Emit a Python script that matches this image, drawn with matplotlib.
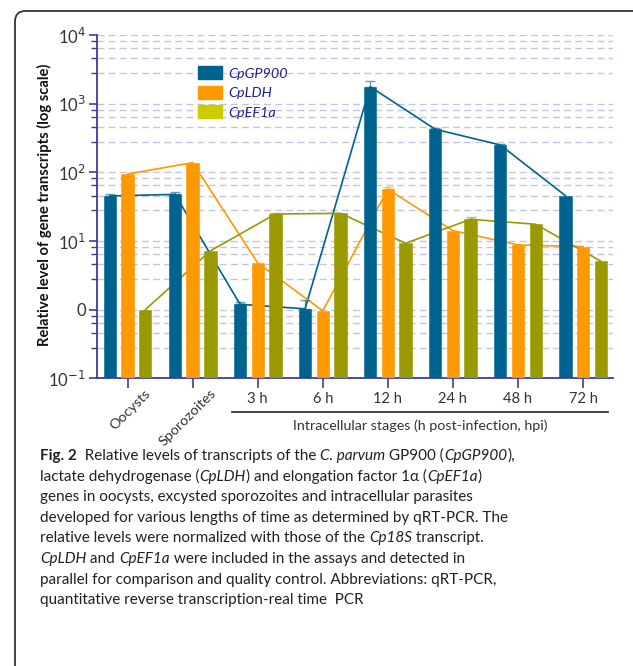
import numpy as np
import matplotlib.pyplot as plt
from matplotlib.patches import FancyBboxPatch, Patch
from matplotlib.ticker import FixedLocator, NullFormatter

# data
stages = ["Oocysts", "Sporozoites", "3 h", "6 h", "12 h", "24 h", "48 h", "72 h"]
gp900 = [45.5, 48, 1.2, 1.03, 1780, 427, 252, 46]
ldh = [95, 139, 4.8, 0.96, 57, 14.2, 8.8, 8.3]
ef1a = [1.0, 7.2, 24.8, 25.4, 9.3, 20.8, 17.6, 5.1]
gp900_err = [3.5, 4, 0.1, 0.35, 390, 18, 6, 0]
ldh_err = [0, 0, 0, 0, 3.5, 0, 0, 0]
ef1a_err = [0, 0, 0.8, 0, 0, 1.4, 0, 0]
series_names = ["CpGP900", "CpLDH", "CpEF1a"]
ytick_labels = ["10$^{-1}$", "0", "10$^{1}$", "10$^{2}$", "10$^{3}$", "10$^{4}$"]

blue = "#00628f"
orange = "#ff9900"
olive = "#999900"
legend_olive = "#cccc00"
navy = "#3d3d99"
text_grey = "#333333"

plt.rcParams['font.family'] = ['Lato', 'DejaVu Sans']
fig = plt.figure(figsize=(6.33, 6.66), dpi=100)

# rounded frame
frame = FancyBboxPatch((15 / 633, -0.05), 630 / 633, 1 - 11 / 666 + 0.05,
                       boxstyle="round,pad=0,rounding_size=0.016",
                       transform=fig.transFigure, fill=False,
                       edgecolor="#333333", linewidth=1.3, clip_on=False)
fig.patches.append(frame)

ax = fig.add_axes([97 / 633, 1 - 378.3 / 666, (613 - 97) / 633, (378.3 - 35.3) / 666])
x = np.arange(len(stages))
width = 0.19
off = 0.272

for vals, errs, col, dx in [(gp900, gp900_err, blue, -off),
                            (ldh, ldh_err, orange, 0),
                            (ef1a, ef1a_err, olive, off)]:
    ax.plot(x + dx, vals, color=col, lw=1.2, zorder=2)
    ax.bar(x + dx, vals, width, color=col, edgecolor=col, linewidth=0.4, zorder=3)
    e = np.array(errs, dtype=float)
    m = e > 0
    ax.errorbar((x + dx)[m], np.array(vals)[m], yerr=[np.zeros(m.sum()), e[m]],
                fmt="none", ecolor=col, alpha=0.6, elinewidth=1, capsize=3.5,
                capthick=1, zorder=4)

ax.set_yscale("log")
ax.set_ylim(0.1, 1e4)
ax.set_xlim(-0.47, 7.46)

major = [1e-1, 1, 10, 100, 1e3, 1e4]
minor = []
for d in [0.1, 1, 10, 100, 1000]:
    minor += [d * f for f in [2.8, 4.6, 6.5, 8.2]]
ax.yaxis.set_major_locator(FixedLocator(major))
ax.yaxis.set_minor_locator(FixedLocator(minor))
ax.yaxis.set_minor_formatter(NullFormatter())
ax.set_yticklabels(ytick_labels)
ax.tick_params(axis="y", which="major", length=6, width=1.2, color=navy,
               labelsize=12, labelcolor=text_grey, pad=2)
ax.tick_params(axis="y", which="minor", length=4, width=1, color=navy)
ax.grid(True, which="both", axis="y", color="#c4c4e0", linestyle=(0, (5, 3)),
        linewidth=1, zorder=0)
ax.set_axisbelow(True)

ax.set_xticks(x)
ax.set_xticklabels([])
ax.tick_params(axis="x", length=7, width=1.2, color=navy)
xt = ax.get_xaxis_transform()
for i, lab in enumerate(stages):
    if i < 2:
        ax.text(i + 0.26, -0.026, lab, rotation=45, ha="right", va="top",
                fontsize=10.4, color=text_grey, rotation_mode="anchor", transform=xt)
    else:
        ax.text(i, -0.041, lab, ha="center", va="top", fontsize=10.6,
                color=text_grey, transform=xt)

for s in ["top", "right"]:
    ax.spines[s].set_visible(False)
for s in ["left", "bottom"]:
    ax.spines[s].set_color(navy)
    ax.spines[s].set_linewidth(1.3)

ax.set_ylabel("Relative level of gene transcripts (log scale)", fontsize=10.6,
              fontweight="bold", color="#111111")
ax.yaxis.set_label_coords(-0.087, 0.505)

# intracellular bracket
ax.plot([1.6, 7.38], [-0.097, -0.097], color="#222222", lw=1.2, clip_on=False,
        transform=xt)
ax.text(4.5, -0.12, "Intracellular stages (h post-infection, hpi)", ha="center",
        va="top", fontsize=10.3, color=text_grey, transform=xt)

# legend
handles = [Patch(color=c) for c in [blue, orange, legend_olive]]
leg = ax.legend(handles, series_names, loc="upper left", bbox_to_anchor=(0.17, 0.947),
                frameon=False, handlelength=1.7, handleheight=1.0, labelspacing=0.42,
                handletextpad=0.45, prop={"style": "italic", "size": 10.4})
for t in leg.get_texts():
    t.set_color("#1f1f8f")

# caption
cap_x = 40 / 633
lines = [
    [("Fig. 2", "bold", "normal"), ("  Relative levels of transcripts of the ", "normal", "normal"),
     ("C. parvum", "normal", "italic"), (" GP900 (", "normal", "normal"),
     ("CpGP900", "normal", "italic"), ("),", "normal", "normal")],
    [("lactate dehydrogenase (", "normal", "normal"), ("CpLDH", "normal", "italic"),
     (") and elongation factor 1α (", "normal", "normal"), ("CpEF1a", "normal", "italic"),
     (")", "normal", "normal")],
    [("genes in oocysts, excysted sporozoites and intracellular parasites", "normal", "normal")],
    [("developed for various lengths of time as determined by qRT-PCR. The", "normal", "normal")],
    [("relative levels were normalized with those of the ", "normal", "normal"),
     ("Cp18S", "normal", "italic"), (" transcript.", "normal", "normal")],
    [("CpLDH", "normal", "italic"), (" and ", "normal", "normal"), ("CpEF1a", "normal", "italic"),
     (" were included in the assays and detected in", "normal", "normal")],
    [("parallel for comparison and quality control. Abbreviations: qRT-PCR,", "normal", "normal")],
    [("quantitative reverse transcription-real time  PCR", "normal", "normal")],
]
fig.canvas.draw()
renderer = fig.canvas.get_renderer()
y0 = 1 - 456 / 666
dy = 20.6 / 666
for k, parts in enumerate(lines):
    xpos = cap_x
    for txt, w, st in parts:
        t = fig.text(xpos, y0 - k * dy, txt, fontsize=11.0, fontweight=w, fontstyle=st,
                     color="#231f20", va="center", ha="left")
        bb = t.get_window_extent(renderer=renderer)
        xpos += bb.width / fig.bbox.width

fig.savefig("out.png", dpi=100)
